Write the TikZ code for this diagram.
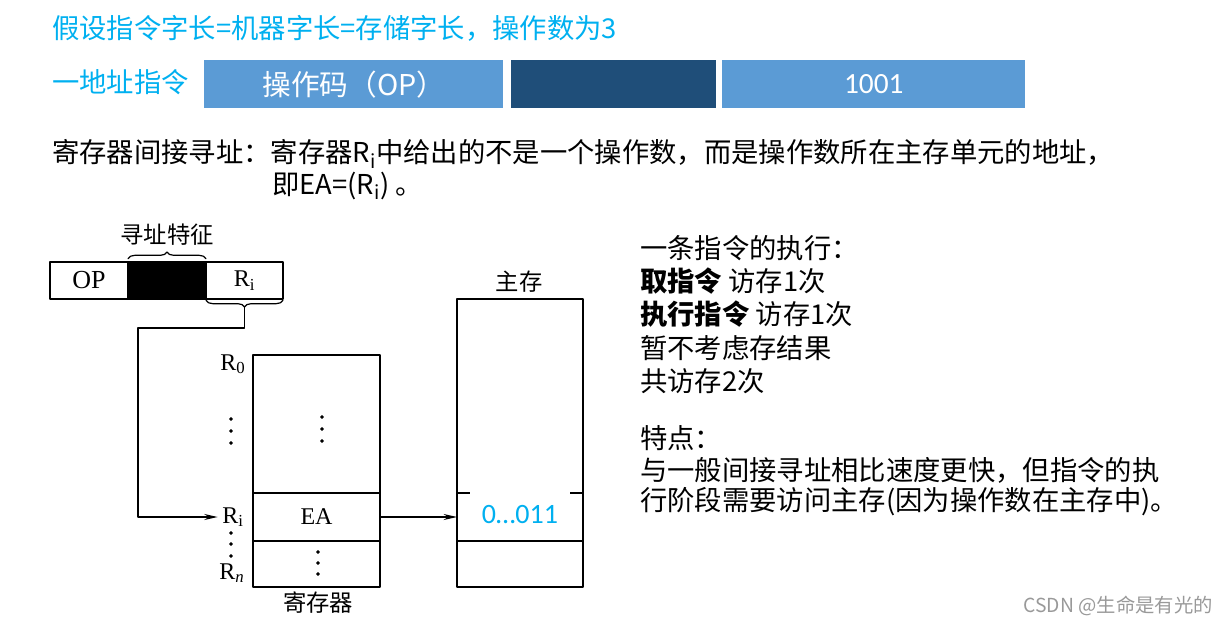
\documentclass[tikz,border=0pt]{standalone}
\usepackage{fontspec}
\setmainfont{Noto Sans CJK SC}
\newfontfamily\carlito{Carlito}
\newfontfamily\timesf{Liberation Serif}
\usetikzlibrary{positioning,arrows.meta,decorations.pathreplacing}
\definecolor{lamnhat}{RGB}{91,155,213}
\definecolor{lamdam}{RGB}{31,78,121}
\definecolor{xanhchu}{RGB}{0,176,240}
\newcommand{\pxu}{0.75pt}
\tikzset{
	bar/.style={fill=lamnhat, minimum height=48*\pxu, inner sep=0pt, text=white},
	cell/.style={draw, line width=1.1pt, inner sep=0pt, outer sep=0pt, anchor=north west},
	txt/.style={anchor=west, inner sep=0pt, font=\fontsize{20.5}{24}\selectfont},
	lbl/.style={font=\timesf\fontsize{18}{20}\selectfont},
	hz/.style={font=\fontsize{17.5}{20}\selectfont},
	arr/.style={-{Stealth[length=10pt,width=4.5pt]}, line width=1pt},
	brc/.style={decorate, decoration={brace, amplitude=5pt}, line width=0.9pt}
}
\begin{document}
\begin{tikzpicture}[x=0.75pt, y=-0.75pt, line cap=round, line join=round]
	\useasboundingbox (0,0) rectangle (1229,628);
	
	% Dòng tiêu đề
	\node[txt, text=xanhchu] (tieude) at (52,28) {假设指令字长=机器字长=存储字长，操作数为3};
	\node[txt, text=xanhchu] (motdc) at (52,82) {一地址指令};
	
	% Các ô của lệnh một địa chỉ
	\node[bar, minimum width=299*\pxu, anchor=north west, font=\fontsize{21.5}{24}\selectfont] (opbar) at (204,60) {操作码（OP）};
	\node[bar, fill=lamdam, minimum width=205*\pxu, right=5.25pt of opbar] (adbar) {};
	\node[bar, minimum width=303*\pxu, right=4.5pt of adbar, font=\carlito\fontsize{22}{24}\selectfont] (valbar) {1001};
	
	% Định nghĩa
	\node[txt] (dinhnghia) at (52,154) {寄存器间接寻址：寄存器R\textsubscript{i}中给出的不是一个操作数，而是操作数所在主存单元的地址，};
	\node[txt] (eadong) at (272,186) {即EA=(R\textsubscript{i}) 。};
	
	% Khuôn dạng lệnh
	\node[cell, lbl, font=\timesf\fontsize{19.5}{20}\selectfont, minimum width=78*\pxu, minimum height=37*\pxu] (op) at (50,262) {OP};
	\node[cell, fill=black, minimum width=78*\pxu, minimum height=37*\pxu, right=0pt of op] (dac) {};
	\node[cell, lbl, minimum width=77*\pxu, minimum height=37*\pxu, right=0pt of dac] (ri) {R\textsubscript{i}};
	\draw[brc] ([yshift=2.5pt]dac.north west) -- ([yshift=2.5pt]dac.north east);
	\node[hz] (dactrung) at (167,235) {寻址特征};
	\draw[brc] ([yshift=-1pt]ri.south east) -- ([yshift=-1pt]ri.south west);
	\coordinate (nhon) at ([yshift=-6pt]ri.south);
	\coordinate (goc) at (138,328);
	
	% Tệp thanh ghi
	\node[cell, minimum width=127*\pxu, minimum height=138*\pxu] (tren) at (253,355) {};
	\node[cell, lbl, minimum width=127*\pxu, minimum height=48*\pxu, below=0pt of tren] (oea) {EA};
	\node[cell, minimum width=127*\pxu, minimum height=46*\pxu, below=0pt of oea] (duoi) {};
	\node[hz] (thanhghi) at (318,603) {寄存器};
	\node[lbl] (r0) at (233,364) {R\textsubscript{0}};
	\node[lbl] (nhi) at (233,517) {R\textsubscript{i}};
	\node[lbl] (rn) at (232,573) {R\textsubscript{\itshape n}};
	\foreach \y in {419,431,443} \filldraw (231,\y) circle (1.2pt);
	\foreach \y in {533,544,556} \filldraw (231,\y) circle (1.2pt);
	\foreach \y in {417,429,441} \filldraw (322,\y) circle (1.2pt);
	\foreach \y in {552,563,574} \filldraw (318,\y) circle (1.2pt);
	
	% Bộ nhớ chính
	\node[hz] (chinh) at (519,282) {主存};
	\node[cell, minimum width=126*\pxu, minimum height=194*\pxu] (mtren) at (457,299) {};
	\node[cell, minimum width=126*\pxu, minimum height=48*\pxu, below=0pt of mtren] (mgiua) {};
	\node[cell, minimum width=126*\pxu, minimum height=46*\pxu, below=0pt of mgiua] (mduoi) {};
	\node[fill=white, inner sep=0pt, minimum width=100*\pxu, minimum height=46*\pxu, anchor=north, text=xanhchu, font=\carlito\fontsize{21}{24}\selectfont] (giatri) at ([yshift=1.5pt]mgiua.north) {0…011};
	
	% Các mũi tên
	\draw[arr] (nhon) |- (goc) |- (nhi.west);
	\draw[arr] (oea.east) -- (mgiua.west);
	
	% Giải thích bên phải
	\node[txt] (l1) at (640,248) {一条指令的执行：};
	\node[txt] (l2) at (640,281) {\textbf{取指令} 访存1次};
	\node[txt] (l3) at (640,314) {\textbf{执行指令} 访存1次};
	\node[txt] (l4) at (640,348) {暂不考虑存结果};
	\node[txt] (l5) at (640,381) {共访存2次};
	\node[txt] (l6) at (640,438) {特点：};
	\node[txt] (l7) at (640,470) {与一般间接寻址相比速度更快，但指令的执};
	\node[txt] (l8) at (640,502) {行阶段需要访问主存(因为操作数在主存中)。};
	
	% Chữ ký
	\node[anchor=east, inner sep=0pt, text=black!40, font=\fontsize{14.5}{16}\selectfont] (csdn) at (1213,606) {CSDN @生命是有光的};
\end{tikzpicture}
\end{document}
